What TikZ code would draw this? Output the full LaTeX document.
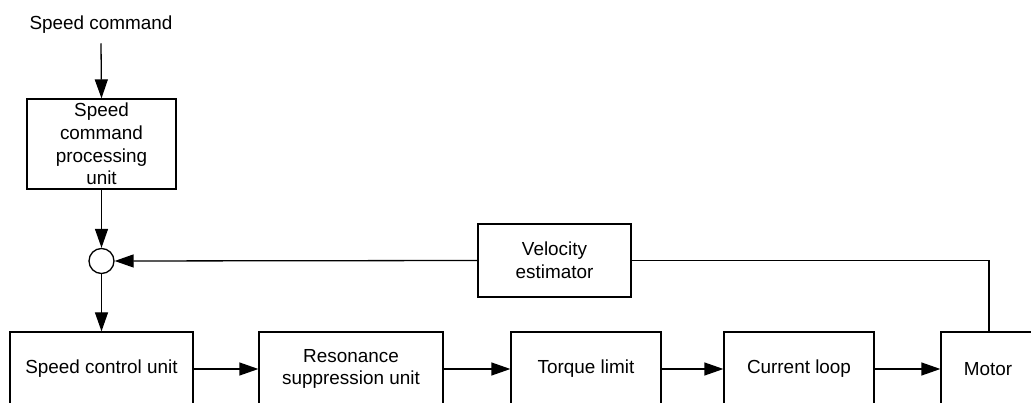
\documentclass[tikz,border=0pt]{standalone}
\usepackage{fontspec}
\setmainfont{Liberation Sans}
\usetikzlibrary{arrows.meta}
\begin{document}
\begin{tikzpicture}[x=1pt,y=-1pt,
  txt/.style={font=\fontsize{18.9}{22.7}\selectfont},
  blk/.style={draw,line width=1.3pt,inner sep=0pt,align=center,txt},
  ar/.style={-{Triangle[length=19pt,width=13pt]},line width=1.3pt},
  ln/.style={line width=1.3pt}]
\useasboundingbox (0,0) rectangle (1031,403);
\begin{scope}
\clip (-1,-1) rectangle (1032,404);
\node[txt,inner xsep=0pt,inner ysep=9.25pt] (cmd) at (101,25) {Speed command};
\node[blk,minimum width=149pt,minimum height=90pt] (scpu) at (101.5,144) {Speed\\command\\processing\\unit};
\node[draw,circle,minimum size=25pt,inner sep=0pt,line width=1.3pt] (sum) at (101.5,261) {};
\node[blk,minimum width=183pt,minimum height=74pt] (scu) at (101.5,369) {Speed control unit};
\node[blk,minimum width=184pt,minimum height=74pt] (rsu) at (351,369) {Resonance\\suppression unit};
\node[blk,minimum width=150pt,minimum height=74pt] (tl) at (586,369) {Torque limit};
\node[blk,minimum width=150pt,minimum height=74pt] (cl) at (799,369) {Current loop};
\node[blk,minimum width=94pt,minimum height=74pt] (mot) at (988,369) {Motor};
\node[blk,minimum width=153pt,minimum height=73pt] (ve) at (554.5,260.5) {Velocity\\estimator};
\draw[ar] (cmd.south) -- (scpu.north);
\draw[ar] (scpu.south) -- (sum.north);
\draw[ar] (sum.south) -- (scu.north);
\draw[ar] (scu.east) -- (rsu.west);
\draw[ar] (rsu.east) -- (tl.west);
\draw[ar] (tl.east) -- (cl.west);
\draw[ar] (cl.east) -- (mot.west);
\draw[ln] ([xshift=1pt]mot.north) |- (ve.east);
\draw[ar] (ve.west) -- (sum.east);
\end{scope}
\end{tikzpicture}
\end{document}
